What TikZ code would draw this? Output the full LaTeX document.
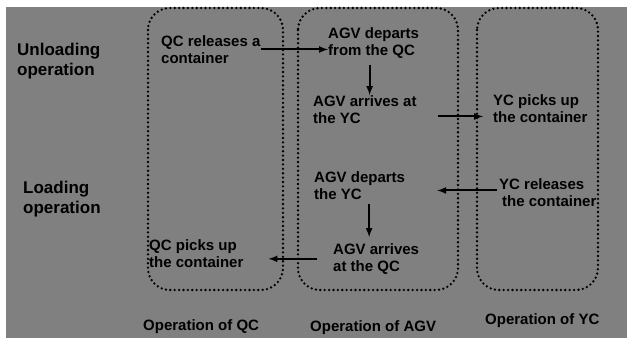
\documentclass[tikz,border=0pt]{standalone}
\usepackage{fontspec}
\setmainfont{Liberation Sans}
\usetikzlibrary{arrows,calc}
\definecolor{panel}{RGB}{128,128,128}
\tikzset{font=\bfseries}
\tikzset{every node/.append style={inner sep=0pt, align=left, anchor=north west}}
\tikzset{lane/.style={line width=2.6pt, dash pattern=on 0pt off 4.4pt, line cap=round, rounded corners=22pt}}
\tikzset{event/.style={font=\fontsize{15}{17.5}\selectfont\bfseries}}
\tikzset{head/.style={font=\fontsize{17}{20}\selectfont\bfseries}}
\tikzset{foot/.style={font=\fontsize{15}{17.5}\selectfont\bfseries}}
\tikzset{flow/.style={-latex, line width=2pt}}

\begin{document}
\begin{tikzpicture}[x=1pt, y=-1pt]
\useasboundingbox (0,0) rectangle (627,340);
\fill[white] (0,0) rectangle (627,340);
\fill[panel] (6,7) rectangle (627,338);
% lanes
\draw[lane] (148,8) rectangle (283,290);
\draw[lane] (298,8) rectangle (458,290);
\draw[lane] (477,8) rectangle (598,290);
% row titles
\node[head] (unload) at (17,43) {Unloading\\operation};
\node[head] (load) at (23,181) {Loading\\operation};
% events
\node[event] (qcrel) at (161,35) {QC releases a\\container};
\node[event] (agvdep) at (328,27) {AGV departs\\from the QC};
\node[event] (agvarr) at (313,95) {AGV arrives at\\the YC};
\node[event] (ycpick) at (493,94) {YC picks up\\the container};
\node[event] (agvdepb) at (314,171) {AGV departs\\the YC};
\node[event] (ycrel) at (499,178) {YC releases\\\hspace*{3pt}the container};
\node[event] (qcpick) at (149,239) {QC picks up\\the container};
\node[event] (agvarrb) at (333,243) {AGV arrives\\at the QC};
% lane titles
\node[foot] (opqc) at (143,319) {Operation of QC};
\node[foot] (opagv) at (310,320) {Operation of AGV};
\node[foot] (opyc) at (485,313) {Operation of YC};
% flows
\draw[flow] (qcrel.east) -- (qcrel.east -| agvdep.west);
\draw[flow, shorten <=6pt] ($(agvdep.south)+(-4,0)$) -- ($(agvdep.south |- agvarr.north)+(-4,0)$);
\draw[flow] ($(agvarr.east)+(21,7)$) -- ($(agvarr.east -| ycpick.west)+(-10,7)$);
\draw[flow] ($(ycrel.west)+(-2,-2)$) -- ($(ycrel.west -| agvdepb.east)+(32,-2)$);
\draw[flow, shorten <=4pt, shorten >=6pt] ($(agvdepb.south -| agvarrb.north)+(-7,0)$) -- ($(agvarrb.north)+(-7,0)$);
\draw[flow] ($(agvarrb.west)+(-16,0)$) -- ($(agvarrb.west -| qcpick.east)+(25,0)$);
\end{tikzpicture}
\end{document}
